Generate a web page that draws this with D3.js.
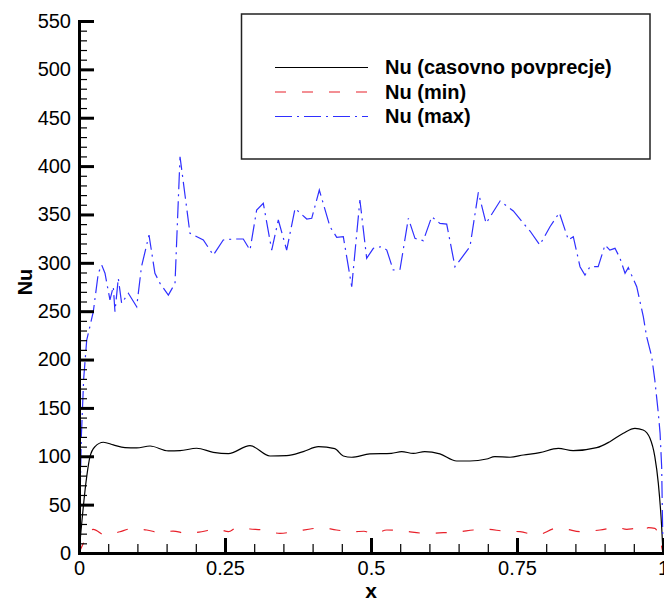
<!DOCTYPE html>
<html>
<head>
<meta charset="utf-8">
<script src="https://cdn.jsdelivr.net/npm/d3@7"></script>
<style>
  html, body { margin: 0; padding: 0; background: #fff; }
  svg { display: block; }
  text { font-family: "Liberation Sans", Arial, Helvetica, sans-serif; }
</style>
</head>
<body>
<svg id="chart" width="664" height="601"></svg>
<script>
// Nusselt number along x: time-averaged, minimum and maximum
const meanX = [0, 0.0132, 0.0188, 0.0274, 0.0417, 0.0588, 0.0788, 0.0987, 0.1216, 0.153, 0.173, 0.2015,
  0.230, 0.2557, 0.2928, 0.327, 0.3556, 0.384, 0.410, 0.438, 0.4526, 0.467, 0.498, 0.535, 0.5525, 0.5725,
  0.592, 0.618, 0.6467, 0.6695, 0.698, 0.712, 0.738, 0.761, 0.789, 0.8207, 0.846, 0.8865, 0.909, 0.932,
  0.952, 0.966, 0.9777, 0.986, 0.992, 0.9977, 1];
const meanNu = [0, 79, 99.6, 110, 114.5, 111.7, 108.9, 108.6, 110.6, 105.5, 105.8, 108.3,
  104.1, 102.7, 111, 100.3, 100.6, 104.8, 109.9, 107.9, 100.3, 99, 102.4, 103, 104.8, 103,
  104.8, 102.4, 95.1, 95.1, 97.2, 99.6, 99, 101.3, 103.7, 108.2, 105.8, 108.9, 115.1, 123.8,
  128.9, 127.2, 118.6, 99.6, 72, 27.2, 0];

const minX = [0, 0.0103, 0.018, 0.0245, 0.0445, 0.070, 0.087, 0.116, 0.139, 0.161, 0.184, 0.210,
  0.236, 0.256, 0.270, 0.293, 0.316, 0.344, 0.373, 0.396, 0.413, 0.441, 0.470, 0.488, 0.504, 0.527,
  0.555, 0.595, 0.624, 0.652, 0.675, 0.698, 0.727, 0.755, 0.784, 0.818, 0.835, 0.858, 0.892, 0.921,
  0.938, 0.955, 0.966, 0.975, 0.986, 0.995, 1];
const minNu = [0, 13.4, 22, 24.5, 18.6, 22, 24.8, 23.8, 21, 22.7, 20.3, 22,
  24.8, 22, 26.2, 24.8, 23.8, 20.3, 22.7, 24.8, 26.2, 23.8, 22, 22.5, 19.3, 23.8,
  22.7, 20.3, 21, 22, 23.8, 24.5, 22.7, 22, 18.6, 25.5, 24.5, 22, 23.8, 26.5,
  24.5, 25.5, 22, 26.2, 25.5, 13.4, 0];

const maxX = [0, 0.004, 0.008, 0.0132, 0.0245, 0.033, 0.0389, 0.0445, 0.053, 0.0587, 0.0616, 0.0673,
  0.073, 0.0845, 0.0988, 0.107, 0.1199, 0.130, 0.1387, 0.153, 0.1644, 0.173, 0.190, 0.2129, 0.230,
  0.247, 0.2642, 0.2813, 0.2928, 0.3042, 0.3156, 0.330, 0.3413, 0.3556, 0.370, 0.390, 0.3985, 0.4115,
  0.4298, 0.4413, 0.4526, 0.467, 0.481, 0.4926, 0.504, 0.518, 0.527, 0.538, 0.5497, 0.564, 0.5753,
  0.5896, 0.604, 0.618, 0.6296, 0.6438, 0.6695, 0.6838, 0.697, 0.721, 0.7437, 0.761, 0.7723, 0.789,
  0.8065, 0.8225, 0.838, 0.8464, 0.8579, 0.8664, 0.875, 0.889, 0.9007, 0.909, 0.9178, 0.9264, 0.935,
  0.9406, 0.955, 0.9663, 0.972, 0.9806, 0.986, 0.992, 0.995, 0.9977, 1];
const maxNu = [0, 120, 180, 220, 249.5, 289.2, 297.7, 289.2, 261.6, 275.3, 249.5, 284,
  258.1, 268.5, 254.6, 296, 328.7, 289.2, 278.8, 266.7, 278.8, 409.7, 330.5, 323.6, 308,
  323.6, 324.6, 324.6, 313.2, 354.6, 361.5, 313.2, 344.3, 313.2, 356.3, 345.3, 346, 375.3,
  337.3, 326.4, 327, 275.3, 365, 304.7, 315, 316.7, 313.2, 292.6, 293.3, 346, 325.3,
  322.9, 347.7, 340.8, 340.1, 296, 316.7, 372.9, 340.8, 363.9, 353.6, 340.8, 332.9, 318.4,
  337.3, 351.8, 323.6, 327, 296, 287.4, 296, 296, 318.4, 313.2, 315, 304.7, 289.2,
  295, 275.3, 244.3, 223.6, 203, 178.8, 144.4, 123.7, 89.2, 0];

const yMajorTicks = d3.range(0, 551, 50);
const yMinorTicks = d3.range(0, 551, 10);
const xMajorTicks = [0, 0.25, 0.5, 0.75, 1];
const xMinorTicks = d3.range(0, 21).map(i => i / 20);

const seriesNames = ["Nu (casovno povprecje)", "Nu (min)", "Nu (max)"];

const svg = d3.select("#chart");
const x = d3.scaleLinear().domain([0, 1]).range([79, 663]);
const y = d3.scaleLinear().domain([0, 550]).range([553, 21]);

const series = [
  { name: seriesNames[0], xs: meanX, ys: meanNu, color: "#000000", dash: null, curve: d3.curveMonotoneX },
  { name: seriesNames[1], xs: minX, ys: minNu, color: "#e8202a", dash: "11,16", curve: d3.curveMonotoneX },
  { name: seriesNames[2], xs: maxX, ys: maxNu, color: "#2f2fff", dash: "17,5,2,5", curve: d3.curveLinear }
];

// data lines
series.forEach(s => {
  const pts = s.xs.map((v, i) => [v, s.ys[i]]);
  const line = d3.line().x(d => x(d[0])).y(d => y(d[1])).curve(s.curve);
  svg.append("path")
    .datum(pts)
    .attr("d", line)
    .attr("fill", "none")
    .attr("stroke", s.color)
    .attr("stroke-width", 1.2)
    .attr("stroke-dasharray", s.dash);
});

// axes: minor ticks, then major ticks with labels, all pointing inward
const yMinor = svg.append("g").attr("transform", "translate(79,0)")
  .call(d3.axisLeft(y).tickValues(yMinorTicks).tickSize(-8).tickSizeOuter(0).tickFormat(""));
yMinor.select(".domain").remove();
yMinor.selectAll(".tick line").attr("stroke", "#000").attr("stroke-width", 1.2);

const yMajor = svg.append("g").attr("transform", "translate(79,0)")
  .call(d3.axisLeft(y).tickValues(yMajorTicks).tickSize(-15).tickSizeOuter(0).tickPadding(8));
yMajor.select(".domain").attr("stroke", "#000").attr("stroke-width", 3).attr("stroke-linecap", "square");
yMajor.selectAll(".tick line").attr("stroke", "#000").attr("stroke-width", 3);
yMajor.selectAll(".tick text").attr("font-size", 20).attr("fill", "#000")
  .attr("font-family", "'Liberation Sans', Arial, sans-serif");

const xMinor = svg.append("g").attr("transform", "translate(0,553)")
  .call(d3.axisBottom(x).tickValues(xMinorTicks).tickSize(-9).tickSizeOuter(0).tickFormat(""));
xMinor.select(".domain").remove();
xMinor.selectAll(".tick line").attr("stroke", "#000").attr("stroke-width", 1.2);

const xMajor = svg.append("g").attr("transform", "translate(0,553)")
  .call(d3.axisBottom(x).tickValues(xMajorTicks).tickSize(-15).tickSizeOuter(0).tickPadding(8)
    .tickFormat(d => String(+d.toFixed(2))));
xMajor.select(".domain").attr("stroke", "#000").attr("stroke-width", 3).attr("stroke-linecap", "square");
xMajor.selectAll(".tick line").attr("stroke", "#000").attr("stroke-width", 3);
xMajor.selectAll(".tick text").attr("font-size", 20).attr("fill", "#000")
  .attr("font-family", "'Liberation Sans', Arial, sans-serif");

// axis titles
svg.append("text")
  .attr("x", 371).attr("y", 598)
  .attr("text-anchor", "middle")
  .attr("font-size", 21).attr("font-weight", "bold")
  .text("x");

svg.append("text")
  .attr("transform", "translate(31.5,282) rotate(-90)")
  .attr("text-anchor", "middle")
  .attr("font-size", 20).attr("font-weight", "bold")
  .text("Nu");

// legend
const legend = svg.append("g");
legend.append("rect")
  .attr("x", 241.5).attr("y", 14).attr("width", 408.5).attr("height", 145)
  .attr("fill", "#fff").attr("stroke", "#222").attr("stroke-width", 1.5);

const legendRowY = [74, 98.5, 123];
series.forEach((s, i) => {
  const by = legendRowY[i];
  legend.append("line")
    .attr("x1", 275).attr("x2", 368)
    .attr("y1", by - 6.5).attr("y2", by - 6.5)
    .attr("stroke", s.color).attr("stroke-width", 1.2)
    .attr("stroke-dasharray", s.dash);
  legend.append("text")
    .attr("x", 385).attr("y", by)
    .attr("font-size", 20).attr("font-weight", "bold")
    .text(s.name);
});
</script>
</body>
</html>
